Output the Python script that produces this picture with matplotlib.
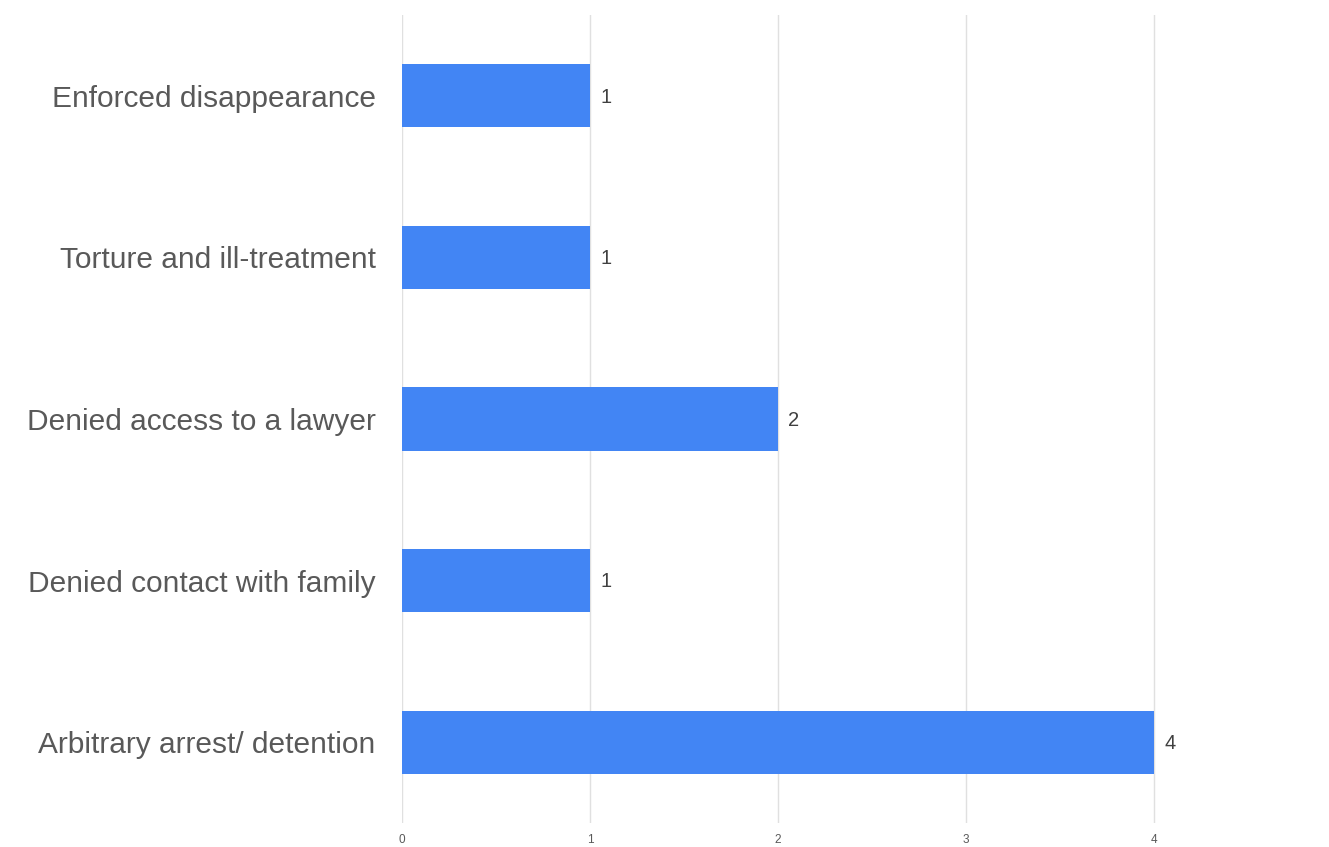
import matplotlib.pyplot as plt

plt.rcParams['font.family'] = ['Liberation Sans', 'DejaVu Sans']

categories = ['Enforced disappearance', 'Torture and ill-treatment',
              'Denied access to a lawyer', 'Denied contact with family',
              'Arbitrary arrest/ detention']
counts = [1, 1, 2, 1, 4]
ticks = [0, 1, 2, 3, 4]

fig = plt.figure(figsize=(13.29, 8.47), dpi=100)
ax = fig.add_axes([402 / 1329, 24 / 847, 4.5 * 188 / 1329, 808 / 847])

ypos = list(range(len(categories)))
ax.barh(ypos, counts, height=0.39, color='#4285f4', zorder=3)

for y, v in zip(ypos, counts):
    ax.annotate(str(v), (v, y), xytext=(7.5, -1), textcoords='offset points',
                va='center', ha='left', fontsize=14.5, color='#404040')

ax.set_xlim(0, 4.5)
ax.set_ylim(-0.5, len(categories) - 0.5)
ax.invert_yaxis()

ax.set_yticks(ypos)
ax.set_yticklabels(categories, fontsize=21.5, color='#595959')
ax.set_xticks(ticks)
ax.set_xticklabels([str(t) for t in ticks], fontsize=8.5, color='#595959')
ax.tick_params(axis='both', length=0)
ax.tick_params(axis='y', pad=19)
ax.tick_params(axis='x', pad=8)

ax.grid(axis='x', color='#e0e0e0', linewidth=1, zorder=0)
for s in ax.spines.values():
    s.set_visible(False)

fig.savefig('out.png', dpi=100)
